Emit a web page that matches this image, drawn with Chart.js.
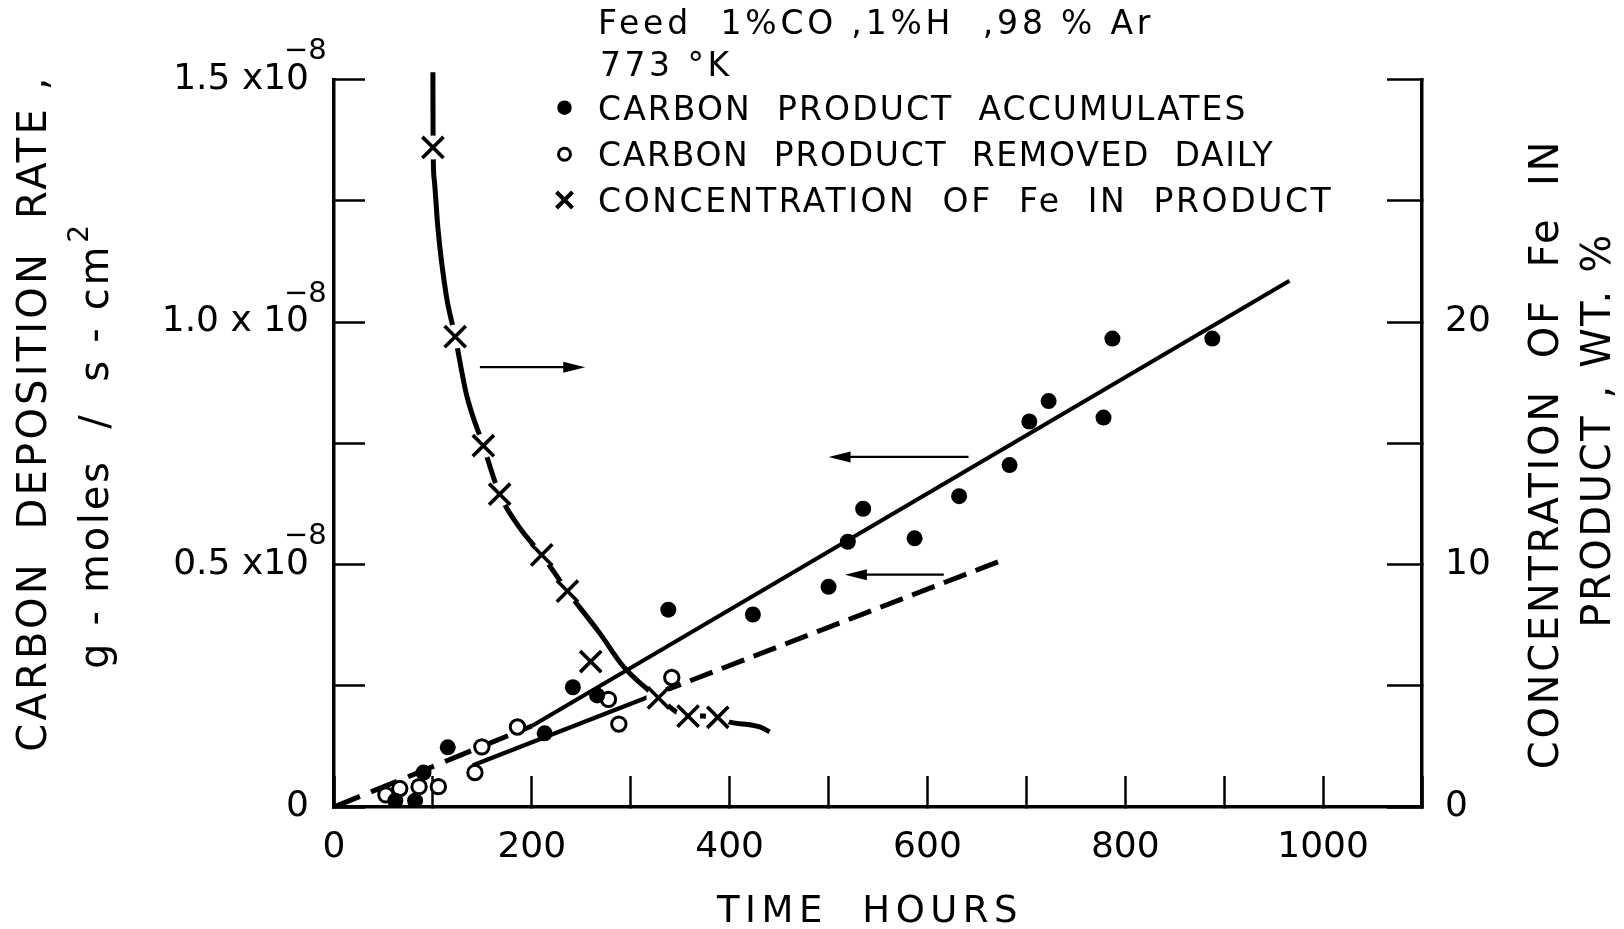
<!DOCTYPE html>
<html>
<head>
<meta charset="utf-8">
<title>Carbon deposition rate and Fe concentration vs time</title>
<script src="https://cdn.jsdelivr.net/npm/chart.js@4.4.1/dist/chart.umd.min.js"></script>
<style>
  html, body { margin: 0; padding: 0; background: #fff; overflow: hidden; }
  #wrap { position: relative; width: 1624px; height: 929px; }
</style>
</head>
<body>
<div id="wrap"><canvas id="deposition-chart"></canvas></div>
<script>
(function() {
    'use strict';

    // Carbon product accumulates (filled dots): time in hours, rate in 1e-8 g-moles/s-cm2
    const accumHours = [62, 82, 90.5, 115, 213, 241.5, 266, 338, 423.5, 500, 519.5, 535, 587, 632, 683, 703, 722.5, 778, 787, 888];
    const accumRate = [0.013, 0.013, 0.071, 0.123, 0.152, 0.247, 0.230, 0.407, 0.397, 0.454, 0.547, 0.615, 0.554, 0.641, 0.705, 0.795, 0.837, 0.803, 0.966, 0.966];

    // Carbon product removed daily (open circles)
    const removedHours = [52.5, 66.5, 86, 105.5, 142.5, 149.5, 185.5, 277.5, 288, 341.5];
    const removedRate = [0.025, 0.038, 0.042, 0.042, 0.071, 0.124, 0.165, 0.222, 0.171, 0.267];

    // Concentration of Fe in product, wt % (crosses, right axis)
    const feHours = [100, 122.5, 151, 167.5, 210, 236, 259.5, 328, 358, 388];
    const feConc = [27.2, 19.4, 14.9, 12.9, 10.4, 8.9, 6.0, 4.5, 3.75, 3.7];

    // Smooth curve drawn through the Fe points
    const feCurveHours = [100, 100.2, 101.3, 105, 113.5, 122.5, 134, 151, 167.5, 188, 210, 236, 269, 292.5, 328, 358, 373, 388, 400, 430.5, 440.5];
    const feCurveConc = [30.3, 27.2, 25.9, 23.9, 21.1, 19.4, 17.0, 14.9, 12.9, 11.5, 10.4, 8.9, 7.15, 5.8, 4.5, 3.75, 3.75, 3.65, 3.5, 3.3, 3.1];

    // Straight lines: first leg of the upper one dashed, second leg of the lower one dashed
    const accumFitHours = [0, 200, 966];
    const accumFitRate = [0, 0.167, 1.085];
    const removedFitHours = [140.5, 328, 677];
    const removedFitRate = [0.086, 0.235, 0.51];

    // Arrows pointing to the axis each curve belongs to
    const arrowStartHours = [147.5, 641.5, 616.5];
    const arrowEndHours = [254, 500, 516.5];
    const arrowRate = [0.907, 0.722, 0.479];

    // Tick labels
    const xLabelValues = [0, 200, 400, 600, 800, 1000];
    const leftTickValues = [0, 0.5, 1.0, 1.5];
    const leftTickText = ['0', '0.5 x10', '1.0 x 10', '1.5 x10'];
    const leftTickExponent = '\u22128';
    const rightTickValues = [0, 10, 20];

    const FONT = '"DejaVu Sans", "Noto Sans", sans-serif';

    const toPoints = (xs, ys) => xs.map((x, i) => ({ x, y: ys[i] }));
    const near = (a, b) => Math.abs(a - b) < 1e-6;

    function setFont(ctx, size, spacing) {
        ctx.font = size + 'px ' + FONT;
        ctx.letterSpacing = (spacing || 0) + 'px';
    }

    // text whose cap height is centred on cy
    function capText(ctx, str, x, cy, size, spacing, align) {
        setFont(ctx, size, spacing);
        ctx.textAlign = align || 'left';
        ctx.textBaseline = 'alphabetic';
        ctx.fillText(str, x, cy + 0.3645 * size);
    }

    // vertical text reading bottom to top, centred on (cx, cy)
    function rotatedText(ctx, str, cx, cy, size, spacing, bodyRatio, sup) {
        ctx.save();
        ctx.translate(cx, cy);
        ctx.rotate(-Math.PI / 2);
        setFont(ctx, size, spacing);
        ctx.textBaseline = 'alphabetic';
        ctx.textAlign = 'left';
        const mainW = ctx.measureText(str).width;
        let supW = 0;
        if (sup) {
            setFont(ctx, size * 0.7, 0);
            supW = ctx.measureText(sup).width + 3;
            setFont(ctx, size, spacing);
        }
        const u0 = -(mainW + supW) / 2;
        const base = bodyRatio * size;
        ctx.fillText(str, u0, base);
        if (sup) {
            setFont(ctx, size * 0.7, 0);
            ctx.fillText(sup, u0 + mainW + 1, base - 0.5 * size);
        }
        ctx.restore();
    }

    const figureText = {
        id: 'figureText',
        afterDraw(chart) {
            const ctx = chart.ctx;
            const xs = chart.scales.x;
            const ys = chart.scales.y;
            ctx.save();
            ctx.fillStyle = '#000';
            ctx.strokeStyle = '#000';

            // arrows
            ctx.lineWidth = 2.2;
            arrowRate.forEach((v, i) => {
                const y = ys.getPixelForValue(v);
                const x0 = xs.getPixelForValue(arrowStartHours[i]);
                const x1 = xs.getPixelForValue(arrowEndHours[i]);
                const dir = Math.sign(x1 - x0);
                const head = 22;
                ctx.beginPath();
                ctx.moveTo(x0, y);
                ctx.lineTo(x1 - dir * head * 0.5, y);
                ctx.stroke();
                ctx.beginPath();
                ctx.moveTo(x1, y);
                ctx.lineTo(x1 - dir * head, y - 5.5);
                ctx.lineTo(x1 - dir * head, y + 5.5);
                ctx.closePath();
                ctx.fill();
            });

            // exponents on the left tick labels
            leftTickValues.forEach((v, i) => {
                if (leftTickText[i].indexOf('10') < 0) return;
                const y = ys.getPixelForValue(v);
                setFont(ctx, 29, 0);
                ctx.textAlign = 'left';
                ctx.textBaseline = 'alphabetic';
                ctx.fillText(leftTickExponent, ys.right - 25 - 25, y - 31 + 10.5);
            });

            // header and legend
            capText(ctx, 'Feed  1%CO ,1%H  ,98 % Ar', 598, 21.7, 33, 3.8);
            capText(ctx, '773 °K', 600, 64.2, 33, 3.5);
            capText(ctx, 'CARBON  PRODUCT  ACCUMULATES', 598, 107.7, 33, 2.1);
            capText(ctx, 'CARBON  PRODUCT  REMOVED  DAILY', 598, 154.3, 33, 1.7);
            capText(ctx, 'CONCENTRATION  OF  Fe  IN  PRODUCT', 598, 200, 33, 2.6);

            ctx.beginPath();
            ctx.arc(564.5, 107.7, 7.2, 0, Math.PI * 2);
            ctx.fill();
            ctx.lineWidth = 3;
            ctx.beginPath();
            ctx.arc(564.5, 154.3, 6, 0, Math.PI * 2);
            ctx.stroke();
            ctx.lineWidth = 4;
            ctx.beginPath();
            ctx.moveTo(556.5, 192);
            ctx.lineTo(572.5, 208);
            ctx.moveTo(572.5, 192);
            ctx.lineTo(556.5, 208);
            ctx.stroke();

            // axis titles
            capText(ctx, 'TIME  HOURS', 870, 908.3, 37, 5.5, 'center');
            rotatedText(ctx, 'CARBON  DEPOSITION  RATE ,', 31, 413, 40, 3.2, 0.3645);
            rotatedText(ctx, 'g - moles  /  s - cm', 97, 446, 40, 2.7, 0.273, '2');
            rotatedText(ctx, 'CONCENTRATION  OF  Fe  IN', 1543, 454, 40, 2.7, 0.3645);
            rotatedText(ctx, 'PRODUCT , WT. %', 1595, 430, 40, 2.6, 0.3645);

            ctx.letterSpacing = '0px';
            ctx.restore();
        },
    };

    function initChart() {
        const canvas = document.getElementById('deposition-chart');
        if (!canvas) {
            console.warn('Canvas element #deposition-chart not found');
            return;
        }

        Chart.defaults.font.family = FONT;
        Chart.defaults.color = '#000';

        const axisBorder = { display: true, width: 3.5, color: '#000' };
        const tickMarks = (len) => ({
            display: true,
            drawOnChartArea: false,
            drawTicks: true,
            tickLength: -len,
            tickWidth: 2.5,
            tickColor: '#000',
        });

        const datasets = [
            {
                type: 'scatter',
                label: 'CONCENTRATION OF Fe IN PRODUCT',
                data: toPoints(feHours, feConc),
                yAxisID: 'yR',
                pointStyle: 'crossRot',
                pointRadius: 15,
                pointBorderWidth: 3.6,
                pointBorderColor: '#000',
                pointBackgroundColor: '#000',
            },
            {
                type: 'scatter',
                label: 'CARBON PRODUCT ACCUMULATES',
                data: toPoints(accumHours, accumRate),
                yAxisID: 'y',
                pointStyle: 'circle',
                pointRadius: 8,
                pointBorderWidth: 0,
                pointBackgroundColor: '#000',
            },
            {
                type: 'scatter',
                label: 'CARBON PRODUCT REMOVED DAILY',
                data: toPoints(removedHours, removedRate),
                yAxisID: 'y',
                pointStyle: 'circle',
                pointRadius: 7.2,
                pointBorderWidth: 3,
                pointBorderColor: '#000',
                pointBackgroundColor: '#fff',
            },
            {
                // white breaks in the curve around each cross
                type: 'scatter',
                label: 'Fe gaps',
                data: toPoints(feHours, feConc),
                yAxisID: 'yR',
                pointStyle: 'circle',
                pointRadius: 12,
                pointBorderWidth: 0,
                pointBackgroundColor: '#fff',
            },
            {
                type: 'line',
                label: 'Fe curve',
                data: toPoints(feCurveHours, feCurveConc),
                yAxisID: 'yR',
                borderColor: '#000',
                borderWidth: 5,
                pointRadius: 0,
                cubicInterpolationMode: 'monotone',
                clip: false,
                fill: false,
            },
            {
                type: 'line',
                label: 'accumulates fit',
                data: toPoints(accumFitHours, accumFitRate),
                yAxisID: 'y',
                borderColor: '#000',
                borderWidth: 4,
                pointRadius: 0,
                fill: false,
                segment: {
                    borderDash: ctx => (ctx.p0DataIndex === 0 ? [28, 12] : undefined),
                    borderWidth: ctx => (ctx.p0DataIndex === 0 ? 5 : 4),
                },
            },
            {
                type: 'line',
                label: 'removed fit',
                data: toPoints(removedFitHours, removedFitRate),
                yAxisID: 'y',
                borderColor: '#000',
                borderWidth: 4.4,
                pointRadius: 0,
                fill: false,
                segment: {
                    borderDash: ctx => (ctx.p0DataIndex === 0 ? undefined : [24, 10]),
                    borderWidth: ctx => (ctx.p0DataIndex === 0 ? 4.4 : 5),
                },
            },
        ];

        try {
            new Chart(canvas, {
                type: 'scatter',
                data: { datasets },
                plugins: [figureText],
                options: {
                    responsive: true,
                    maintainAspectRatio: false,
                    animation: false,
                    events: [],
                    layout: { padding: { top: 78, left: 0, right: 0, bottom: 0 } },
                    plugins: {
                        legend: { display: false },
                        tooltip: { enabled: false },
                    },
                    scales: {
                        x: {
                            type: 'linear',
                            min: 0,
                            max: 1100,
                            afterFit: scale => { scale.height = 122; },
                            border: axisBorder,
                            grid: tickMarks(31),
                            ticks: {
                                stepSize: 100,
                                autoSkip: false,
                                maxRotation: 0,
                                padding: 50,
                                font: { size: 36 },
                                callback: v => (xLabelValues.some(t => near(t, v)) ? String(v) : ''),
                            },
                        },
                        y: {
                            type: 'linear',
                            position: 'left',
                            min: 0,
                            max: 1.5,
                            afterFit: scale => { scale.width = 334; },
                            border: axisBorder,
                            grid: tickMarks(31),
                            ticks: {
                                stepSize: 0.25,
                                autoSkip: false,
                                padding: 56,
                                font: { size: 36 },
                                callback: v => {
                                    const i = leftTickValues.findIndex(t => near(t, v));
                                    return i >= 0 ? leftTickText[i] : '';
                                },
                            },
                        },
                        yR: {
                            type: 'linear',
                            position: 'right',
                            min: 0,
                            max: 30,
                            afterFit: scale => { scale.width = 202; },
                            border: axisBorder,
                            grid: tickMarks(35),
                            ticks: {
                                stepSize: 5,
                                autoSkip: false,
                                padding: 58,
                                font: { size: 36 },
                                callback: v => (rightTickValues.some(t => near(t, v)) ? String(v) : ''),
                            },
                        },
                    },
                },
            });
        } catch (error) {
            console.error('Error initializing chart:', error);
        }
    }

    if (document.readyState === 'loading') {
        document.addEventListener('DOMContentLoaded', initChart);
    } else {
        initChart();
    }
})();
</script>
</body>
</html>
